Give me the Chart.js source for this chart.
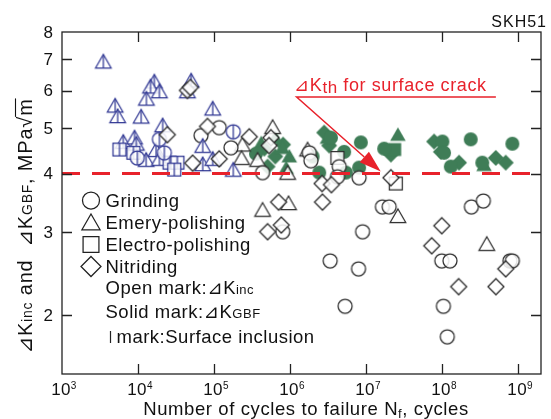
<!DOCTYPE html>
<html>
<head>
<meta charset="utf-8">
<script src="https://cdn.jsdelivr.net/npm/chart.js@4.4.0/dist/chart.umd.min.js"></script>
<style>
html, body { margin: 0; padding: 0; background: #fff; }
</style>
</head>
<body>
<canvas id="fatigueChart" width="551" height="419"></canvas>
<script>
// axis ticks
const xTicks = [1e3, 1e4, 1e5, 1e6, 1e7, 1e8, 1e9];
const xTickExp = ['3', '4', '5', '6', '7', '8', '9'];
const yTicks = [2, 3, 4, 5, 6, 7, 8];
const kThreshold = 4;

// surface inclusion origin (blue, open mark with bar) [Nf, dK]
const inclTriangle = [
  [3.5e3, 6.86], [1.64e4, 6.22], [1.46e4, 6.07], [1.91e4, 5.93], [1.29e4, 5.72],
  [5.0e4, 6.25], [4.46e4, 5.93], [5.0e3, 5.53], [5.4e3, 5.25], [1.1e4, 5.24],
  [9.6e4, 5.45], [2.11e4, 5.02], [6.4e3, 4.63], [9.0e3, 4.73], [9.5e3, 4.59],
  [1.28e4, 4.24], [1.73e4, 4.45], [1.91e4, 4.26], [7.1e4, 4.54], [7.1e4, 4.15],
  [9.6e4, 4.26], [1.79e5, 4.04]
];
const inclSquare = [[5.7e3, 4.50], [8.7e3, 4.43], [2.6e4, 4.22], [3.3e4, 4.22], [3.0e4, 4.08]];
const inclCircle = [[1.91e4, 4.73], [9.8e3, 4.32], [2.22e4, 4.43], [1.79e5, 4.91]];

// open marks: dK_inc
const openCircle = [
  [6.75e4, 4.82], [1.17e5, 5.01], [1.67e5, 4.54], [4.35e5, 4.02], [1.79e6, 4.43],
  [1.88e6, 4.26], [4.43e6, 4.14], [4.21e6, 3.94], [8.1e6, 3.92], [8.0e5, 3.01],
  [9.0e6, 3.01], [1.64e7, 3.40], [2.01e7, 3.40], [3.37e6, 2.61], [7.95e6, 2.51],
  [5.3e6, 2.09], [1.17e8, 1.80], [1.04e8, 2.09], [9.9e7, 2.61], [1.27e8, 2.61],
  [2.43e8, 3.40], [3.49e8, 3.50], [7.8e8, 2.61], [8.4e8, 2.61]
];
const openTriangle = [
  [5.9e5, 4.98], [2.36e5, 4.57], [2.3e5, 4.28], [3.74e5, 4.24], [9.3e5, 3.98],
  [9.55e5, 3.43], [4.35e5, 3.32], [2.62e7, 3.22], [3.87e8, 2.81], [1.7e6, 4.46]
];
const openSquare = [[4.2e6, 4.32], [2.46e7, 3.81]];
const openDiamond = [
  [4.46e4, 6.01], [4.88e4, 6.10], [2.43e4, 4.84], [5.23e4, 4.21], [1.17e5, 4.30],
  [8.2e4, 5.04], [2.91e5, 4.79], [5.6e5, 4.77], [5.3e5, 4.59], [7.06e5, 3.48],
  [2.67e6, 3.48], [7.66e5, 3.11], [5.06e5, 3.01], [2.64e6, 3.81], [3.5e6, 3.79],
  [2.12e7, 3.92], [9.9e7, 3.10], [7.3e7, 2.81], [1.65e8, 2.30], [5.1e8, 2.30], [6.87e8, 2.51]
];

// solid marks: dK_GBF
const solidCircle = [
  [3.56e5, 4.41], [1.98e6, 4.35], [2.42e6, 4.02], [3.45e6, 4.77], [5.15e6, 4.45],
  [5.43e6, 4.02], [8.1e6, 4.12], [8.54e6, 4.66], [1.73e7, 4.52], [1.01e8, 4.68],
  [1.06e8, 4.43], [1.3e8, 4.14], [2.38e8, 4.73], [3.38e8, 4.22], [8.4e8, 4.63]
];
const solidTriangle = [
  [6.39e5, 4.73], [7.9e5, 4.50], [9.76e5, 4.32], [4.18e5, 4.61], [8.9e5, 4.08],
  [2.62e7, 4.80], [3.56e8, 4.14], [3.1e6, 4.73]
];
const solidDiamond = [
  [4.58e5, 4.52], [6.39e5, 4.35], [5.06e5, 4.14], [2.81e6, 4.89], [3.27e6, 4.59],
  [2.12e7, 4.39], [7.85e7, 4.68], [9.62e7, 4.45], [1.67e8, 4.22], [5.08e8, 4.32],
  [6.87e8, 4.22], [8.1e5, 4.61]
];
const solidSquare = [[2.38e7, 4.50]];

// annotation anchor points in data units
const annoTextAt = [1.13e6, 5.99];
const arrowFrom = [1.22e6, 5.82];
const arrowTo = [1.56e7, 4.04];
const underlineEnd = 5.1e8;

const BLUE = '#2e3592';
const DARK = '#2b2b2b';
const GREEN = '#3f7d57';
const RED = '#e8222b';
const FONT = '"Liberation Sans", "DejaVu Sans", Arial, sans-serif';

function shapePath(ctx, shape, x, y, r) {
  ctx.beginPath();
  if (shape === 'circle') {
    ctx.arc(x, y, r, 0, Math.PI * 2);
  } else if (shape === 'triangle') {
    ctx.moveTo(x, y - r);
    ctx.lineTo(x + r * 0.866, y + r / 2);
    ctx.lineTo(x - r * 0.866, y + r / 2);
    ctx.closePath();
  } else if (shape === 'square') {
    const h = r * 0.72;
    ctx.rect(x - h, y - h, 2 * h, 2 * h);
  } else {
    ctx.moveTo(x, y - r);
    ctx.lineTo(x + r, y);
    ctx.lineTo(x, y + r);
    ctx.lineTo(x - r, y);
    ctx.closePath();
  }
}

function drawShape(ctx, shape, x, y, r, color, filled, bar) {
  ctx.save();
  shapePath(ctx, shape, x, y, r);
  if (filled) {
    ctx.fillStyle = color;
    ctx.fill();
  } else {
    ctx.fillStyle = 'rgba(255,255,255,0.85)';
    ctx.fill();
    ctx.strokeStyle = color;
    ctx.lineWidth = 1.25;
    ctx.stroke();
  }
  if (bar) {
    let top = y - r, bot = y + r;
    if (shape === 'triangle') bot = y + r / 2;
    if (shape === 'square') { top = y - r * 0.72; bot = y + r * 0.72; }
    ctx.beginPath();
    ctx.moveTo(x, top);
    ctx.lineTo(x, bot);
    ctx.stroke();
  }
  ctx.restore();
}

function symbol(shape, r, color, filled, bar) {
  const s = Math.ceil(2 * r + 4);
  const c = document.createElement('canvas');
  c.width = s; c.height = s;
  drawShape(c.getContext('2d'), shape, s / 2, s / 2, r, color, filled, bar);
  return c;
}

const SIZE = { circle: 7, triangle: 9, square: 9, diamond: 8 };

function series(label, rows, shape, color, filled, bar) {
  return {
    label: label,
    data: rows.map(p => ({ x: p[0], y: p[1] })),
    pointStyle: symbol(shape, SIZE[shape], color, filled, bar),
    pointRadius: SIZE[shape],
    showLine: false
  };
}

const datasets = [
  {
    label: 'dKth',
    data: [{ x: 1e3, y: kThreshold }, { x: 2e9, y: kThreshold }],
    showLine: true,
    borderColor: RED,
    borderWidth: 3,
    borderDash: [18, 12],
    pointRadius: 0
  },
  series('Nitriding open', openDiamond, 'diamond', DARK, false, false),
  series('Grinding inclusion', inclCircle, 'circle', BLUE, false, true),
  series('Electro inclusion', inclSquare, 'square', BLUE, false, true),
  series('Emery inclusion', inclTriangle, 'triangle', BLUE, false, true),
  series('Grinding open', openCircle, 'circle', DARK, false, false),
  series('Emery open', openTriangle, 'triangle', DARK, false, false),
  series('Electro open', openSquare, 'square', DARK, false, false),
  series('Grinding solid', solidCircle, 'circle', GREEN, true, false),
  series('Emery solid', solidTriangle, 'triangle', GREEN, true, false),
  series('Electro solid', solidSquare, 'square', GREEN, true, false),
  series('Nitriding solid', solidDiamond, 'diamond', GREEN, true, false)
];

// draw text pieces: [text, size, dy]
function drawPieces(ctx, pieces, x, y, color, spacing) {
  ctx.fillStyle = color;
  ctx.textBaseline = 'alphabetic';
  ctx.textAlign = 'left';
  let cx = x;
  const pos = [];
  pieces.forEach(p => {
    ctx.font = p[1] + 'px ' + FONT;
    if ('letterSpacing' in ctx) ctx.letterSpacing = (spacing || 0) + 'px';
    ctx.fillText(p[0], cx, y + (p[2] || 0));
    const w = ctx.measureText(p[0]).width;
    pos.push([cx, w]);
    cx += w;
  });
  if ('letterSpacing' in ctx) ctx.letterSpacing = '0px';
  return { end: cx, pos: pos };
}

function piecesWidth(ctx, pieces, spacing) {
  let w = 0;
  pieces.forEach(p => {
    ctx.font = p[1] + 'px ' + FONT;
    if ('letterSpacing' in ctx) ctx.letterSpacing = (spacing || 0) + 'px';
    w += ctx.measureText(p[0]).width;
  });
  if ('letterSpacing' in ctx) ctx.letterSpacing = '0px';
  return w;
}

const decorations = {
  id: 'decorations',
  afterDraw(chart) {
    const ctx = chart.ctx;
    const area = chart.chartArea;
    const xs = chart.scales.x;
    const ys = chart.scales.y;
    ctx.save();

    // annotation: threshold label + arrow
    const tx = xs.getPixelForValue(annoTextAt[0]);
    const ty = ys.getPixelForValue(annoTextAt[1]);
    drawPieces(ctx, [['\u22BFK', 18], ['th', 17, 2], [' for surface crack', 18]], tx, ty, RED, 0.6);
    const ax = xs.getPixelForValue(arrowFrom[0]);
    const ay = ys.getPixelForValue(arrowFrom[1]);
    const bx = xs.getPixelForValue(arrowTo[0]);
    const by = ys.getPixelForValue(arrowTo[1]);
    const ux = xs.getPixelForValue(underlineEnd);
    ctx.strokeStyle = RED;
    ctx.lineWidth = 1.5;
    ctx.beginPath();
    ctx.moveTo(ux, ay);
    ctx.lineTo(ax, ay);
    const ang = Math.atan2(by - ay, bx - ax);
    const hl = 22, hw = 7;
    const hx = bx - hl * Math.cos(ang), hy = by - hl * Math.sin(ang);
    ctx.lineTo(hx, hy);
    ctx.stroke();
    ctx.fillStyle = RED;
    ctx.beginPath();
    ctx.moveTo(bx, by);
    ctx.lineTo(hx + hw * Math.sin(ang), hy - hw * Math.cos(ang));
    ctx.lineTo(hx - hw * Math.sin(ang), hy + hw * Math.cos(ang));
    ctx.closePath();
    ctx.fill();

    // frame and inward ticks
    ctx.strokeStyle = '#222';
    ctx.lineWidth = 1.3;
    ctx.strokeRect(area.left, area.top, area.right - area.left, area.bottom - area.top);
    ctx.beginPath();
    xTicks.forEach(v => {
      const px = Math.round(xs.getPixelForValue(v)) + 0.5;
      if (px <= area.left + 1) return;
      ctx.moveTo(px, area.bottom); ctx.lineTo(px, area.bottom - 10);
      ctx.moveTo(px, area.top); ctx.lineTo(px, area.top + 10);
    });
    yTicks.forEach(v => {
      const py = Math.round(ys.getPixelForValue(v)) + 0.5;
      if (py <= area.top + 1) return;
      ctx.moveTo(area.left, py); ctx.lineTo(area.left + 10, py);
      ctx.moveTo(area.right, py); ctx.lineTo(area.right - 10, py);
    });
    ctx.stroke();

    // tick labels
    ctx.fillStyle = '#111';
    ctx.textBaseline = 'middle';
    ctx.textAlign = 'right';
    ctx.font = '17px ' + FONT;
    yTicks.forEach(v => {
      ctx.fillText(String(v), area.left - 9, ys.getPixelForValue(v) + 1);
    });
    xTicks.forEach((v, i) => {
      const parts = [['10', 17], [xTickExp[i], 10, -6]];
      const w = piecesWidth(ctx, parts, 0.4);
      drawPieces(ctx, parts, xs.getPixelForValue(v) - w / 2 + 2, area.bottom + 20.5, '#111', 0.4);
    });

    // axis titles
    const xt = [['Number of cycles to failure N', 18.5], ['f', 13, 3], [', cycles', 18.5]];
    const xw = piecesWidth(ctx, xt, 0.6);
    drawPieces(ctx, xt, 306 - xw / 2, 415, '#111', 0.6);

    const yt = [['\u22BFK', 20], ['inc', 14], [' and  \u22BFK', 20], ['GBF', 14], [', MPa\u221A', 20], ['m', 20]];
    const yw = piecesWidth(ctx, yt, 0.8);
    ctx.save();
    ctx.translate(32, 226);
    ctx.rotate(-Math.PI / 2);
    const r = drawPieces(ctx, yt, -yw / 2, 0, '#111', 0.8);
    const m = r.pos[r.pos.length - 1];
    ctx.strokeStyle = '#111';
    ctx.lineWidth = 1.1;
    ctx.beginPath();
    ctx.moveTo(m[0] - 1, -16.5);
    ctx.lineTo(m[0] + m[1], -16.5);
    ctx.stroke();
    ctx.restore();

    // material label
    ctx.font = '16px ' + FONT;
    if ('letterSpacing' in ctx) ctx.letterSpacing = '1px';
    ctx.textAlign = 'right';
    ctx.textBaseline = 'alphabetic';
    ctx.fillStyle = '#111';
    ctx.fillText('SKH51', 547, 27);
    if ('letterSpacing' in ctx) ctx.letterSpacing = '0px';

    // legend
    const lx = 91, tx0 = 105.5;
    const items = [['circle', 8.5, 'Grinding', 206.5], ['triangle', 10.5, 'Emery-polishing', 228.5],
                   ['square', 11, 'Electro-polishing', 250.5], ['diamond', 10, 'Nitriding', 272.5]];
    items.forEach(it => {
      const cy = it[3] - 6;
      drawShape(ctx, it[0], lx, it[0] === 'triangle' ? cy + 2 : cy, it[1], '#222', false, false);
      drawPieces(ctx, [[it[2], 18.5]], tx0, it[3], '#111', 0.5);
    });
    drawPieces(ctx, [['Open mark:\u22BFK', 18.5], ['inc', 13]], tx0, 294, '#111', 0.5);
    drawPieces(ctx, [['Solid mark:\u22BFK', 18.5], ['GBF', 13]], tx0, 317.5, '#111', 0.5);
    ctx.strokeStyle = '#222';
    ctx.lineWidth = 1.2;
    ctx.beginPath();
    ctx.moveTo(110.5, 331);
    ctx.lineTo(110.5, 343);
    ctx.stroke();
    drawPieces(ctx, [['mark:Surface inclusion', 18.5]], 116.5, 343, '#111', 0.5);

    ctx.restore();
  }
};

new Chart(document.getElementById('fatigueChart').getContext('2d'), {
  type: 'scatter',
  data: { datasets: datasets },
  options: {
    responsive: false,
    animation: false,
    layout: { padding: { left: 62, right: 9, top: 32, bottom: 45 } },
    plugins: { legend: { display: false }, tooltip: { enabled: false } },
    scales: {
      x: {
        type: 'logarithmic', min: 1e3, max: 2e9,
        grid: { display: false, drawTicks: false }, border: { display: false },
        ticks: { display: false }
      },
      y: {
        type: 'logarithmic', min: 1.5, max: 8,
        grid: { display: false, drawTicks: false }, border: { display: false },
        ticks: { display: false },
        afterBuildTicks: scale => { scale.ticks = yTicks.map(v => ({ value: v })); }
      }
    }
  },
  plugins: [decorations]
});
</script>
</body>
</html>
